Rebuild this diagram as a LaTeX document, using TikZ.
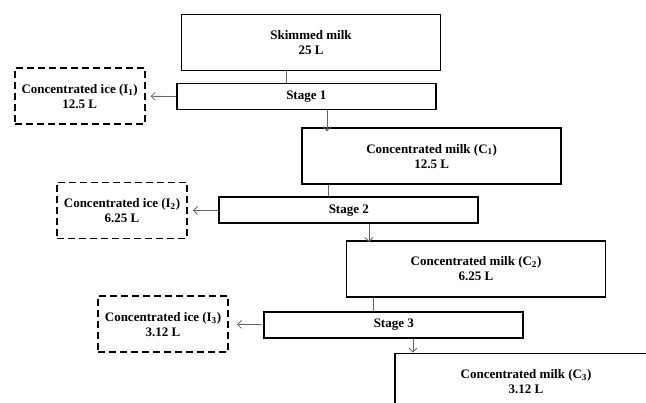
\documentclass[tikz,border=0pt]{standalone}
\usepackage{fontspec}
\setmainfont{Liberation Serif}
\usetikzlibrary{arrows.meta}
\begin{document}
\begin{tikzpicture}[x=1pt,y=-1pt,
  txt/.style={font=\bfseries\fontsize{13}{15}\selectfont, align=center, inner sep=0pt},
  bigbox/.style={txt, draw=black, line width=1.8pt, minimum width=259pt, minimum height=56pt},
  stagebox/.style={txt, draw=black, line width=1.8pt, minimum width=259pt, minimum height=26pt},
  icebox/.style={txt, draw=black, line width=1.9pt, dash pattern=on 7pt off 4pt, minimum width=130pt, minimum height=56pt},
  link/.style={draw=black!60, line width=0.8pt},
  arr/.style={link, -{Straight Barb[length=4pt,width=8pt]}}
]
\useasboundingbox (0,0) rectangle (646,403);
\clip (0,0) rectangle (646,403);
\fill[white] (0,0) rectangle (646,403);

\node[bigbox] (milk) at (311,42.5) {Skimmed milk\\25 L};
\node[stagebox] (s1) at (306.3,96.5) {Stage 1};
\node[icebox] (i1) at (79.7,96.3) {Concentrated ice (I\textsubscript{1})\\12.5 L};
\node[bigbox] (c1) at (431.7,156.2) {Concentrated milk (C\textsubscript{1})\\12.5 L};
\node[stagebox] (s2) at (348.8,210.4) {Stage 2};
\node[icebox] (i2) at (122,210.5) {Concentrated ice (I\textsubscript{2})\\6.25 L};
\node[bigbox] (c2) at (476,269) {Concentrated milk (C\textsubscript{2})\\6.25 L};
\node[stagebox] (s3) at (393.8,324.7) {Stage 3};
\node[icebox] (i3) at (163,324.2) {Concentrated ice (I\textsubscript{3})\\3.12 L};
\node[bigbox, minimum width=262pt] (c3) at (526,381.5) {Concentrated milk (C\textsubscript{3})\\3.12 L};

% milk -> stage 1
\draw[link] (milk.south -| 286,0) -- (s1.north -| 286,0);
\draw[arr] (s1.south -| 327,0) -- ([yshift=-4pt]c1.north -| 327,0);
\draw[arr, shorten >=5pt] (s1.west) -- (i1.east);
% C1 -> stage 2
\draw[link] (c1.south -| 328.7,0) -- (s2.north -| 328.7,0);
\draw[arr] (s2.south -| 369,0) -- ([yshift=-2pt]c2.north -| 369,0);
\draw[arr, shorten >=5pt] (s2.west) -- (i2.east);
% C2 -> stage 3
\draw[link] (c2.south -| 373.3,0) -- (s3.north -| 373.3,0);
\draw[arr] (s3.south -| 413,0) -- (c3.north -| 413,0);
\draw[arr, shorten >=8pt] (s3.west) -- (i3.east);
\end{tikzpicture}
\end{document}
